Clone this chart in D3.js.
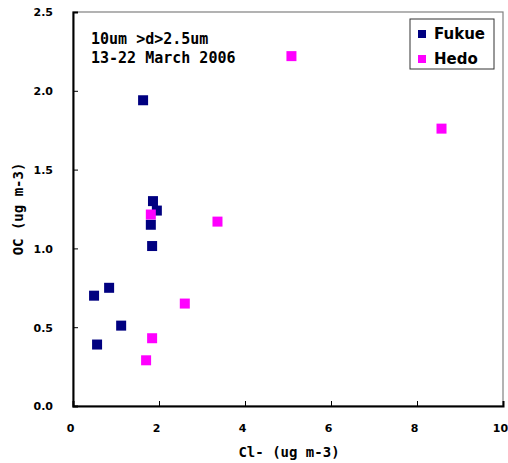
<!DOCTYPE html>
<html>
<head>
<meta charset="utf-8">
<script src="https://cdn.jsdelivr.net/npm/d3@7"></script>
<style>
	body { margin: 0; background: #fff; }
	svg text { fill: #000; }
	.tick-label { font: bold 11px "DejaVu Sans", sans-serif; }
	.title { font: bold 14px "DejaVu Sans Mono", monospace; }
	.note { font: bold 15px "DejaVu Sans Mono", monospace; }
	.legend-text { font: bold 15px "DejaVu Sans", sans-serif; }
</style>
</head>
<body>
<div id="chart"></div>
<script>
// Cl- vs OC, coarse fraction
const fukueCl = [1.63, 1.86, 1.95, 1.81, 1.84, 0.49, 0.84, 1.12, 0.56];
const fukueOC = [1.94, 1.30, 1.24, 1.15, 1.015, 0.70, 0.75, 0.51, 0.39];
const hedoCl = [5.08, 8.57, 1.81, 3.36, 2.60, 1.84, 1.70];
const hedoOC = [2.22, 1.76, 1.215, 1.17, 0.65, 0.43, 0.29];
const xTicks = [0, 2, 4, 6, 8, 10];
const yTicks = [0, 0.5, 1.0, 1.5, 2.0, 2.5];
const seriesNames = ["Fukue", "Hedo"];
const seriesColors = ["#000080", "#ff00ff"];

const width = 508;
const height = 463;
const margin = { top: 12, right: 5, bottom: 57, left: 73 };

const svg = d3.select("#chart").append("svg")
	.attr("width", width)
	.attr("height", height);

const x = d3.scaleLinear().domain([0, 10]).range([margin.left, width - margin.right]);
const y = d3.scaleLinear().domain([0, 2.5]).range([height - margin.bottom, margin.top]);

// frame: top/right grey, left/bottom black
svg.append("rect")
	.attr("x", x(0)).attr("y", y(2.5))
	.attr("width", x(10) - x(0)).attr("height", y(0) - y(2.5))
	.attr("fill", "none").attr("stroke", "#808080").attr("stroke-width", 1.2);

const yAxis = d3.axisLeft(y).tickValues(yTicks).tickSize(-5).tickPadding(20).tickFormat(d3.format(".1f"));
const xAxis = d3.axisBottom(x).tickValues(xTicks).tickSize(-5).tickPadding(17).tickFormat(d3.format("d"));

const gy = svg.append("g").attr("transform", `translate(${x(0)},0)`).call(yAxis);
const gx = svg.append("g").attr("transform", `translate(0,${y(0)})`).call(xAxis);

[gy, gx].forEach((g) => {
	g.select(".domain").attr("stroke", "#000").attr("stroke-width", 2);
	g.selectAll(".tick line").attr("stroke", "#000").attr("stroke-width", 1);
	g.selectAll(".tick text").attr("class", "tick-label").attr("fill", "#000");
});
gy.selectAll(".tick text").attr("dy", "0.35em");
gx.selectAll(".tick text").attr("dy", "0.35em").attr("y", 22).attr("x", -3);

// points
const drawSeries = (xs, ys, color) => {
	svg.append("g").selectAll("rect")
		.data(xs.map((d, i) => [d, ys[i]]))
		.join("rect")
		.attr("x", (d) => x(d[0]) - 5)
		.attr("y", (d) => y(d[1]) - 5)
		.attr("width", 10)
		.attr("height", 10)
		.attr("fill", color);
};
drawSeries(fukueCl, fukueOC, seriesColors[0]);
drawSeries(hedoCl, hedoOC, seriesColors[1]);

// axis titles
svg.append("text").attr("class", "title")
	.attr("x", 289).attr("y", 452).attr("dy", "0.35em")
	.attr("text-anchor", "middle").text("Cl- (ug m-3)");
svg.append("text").attr("class", "title")
	.attr("transform", `translate(18,${(y(0) + y(2.5)) / 2}) rotate(-90)`)
	.attr("dy", "0.35em").attr("text-anchor", "middle").text("OC (ug m-3)");

// note
svg.append("text").attr("class", "note").attr("x", 91).attr("y", 44).text("10um >d>2.5um");
svg.append("text").attr("class", "note").attr("x", 91).attr("y", 63).text("13-22 March 2006");

// legend
const legend = svg.append("g").attr("transform", "translate(410,19)");
legend.append("rect")
	.attr("width", 84).attr("height", 50)
	.attr("fill", "#fff").attr("stroke", "#333").attr("stroke-width", 1);
seriesNames.forEach((name, i) => {
	const row = legend.append("g").attr("transform", `translate(0,${15 + i * 25})`);
	row.append("rect").attr("x", 8).attr("y", -4).attr("width", 8).attr("height", 8).attr("fill", seriesColors[i]);
	row.append("text").attr("class", "legend-text").attr("x", 24).attr("dy", "0.35em").text(name);
});
</script>
</body>
</html>
